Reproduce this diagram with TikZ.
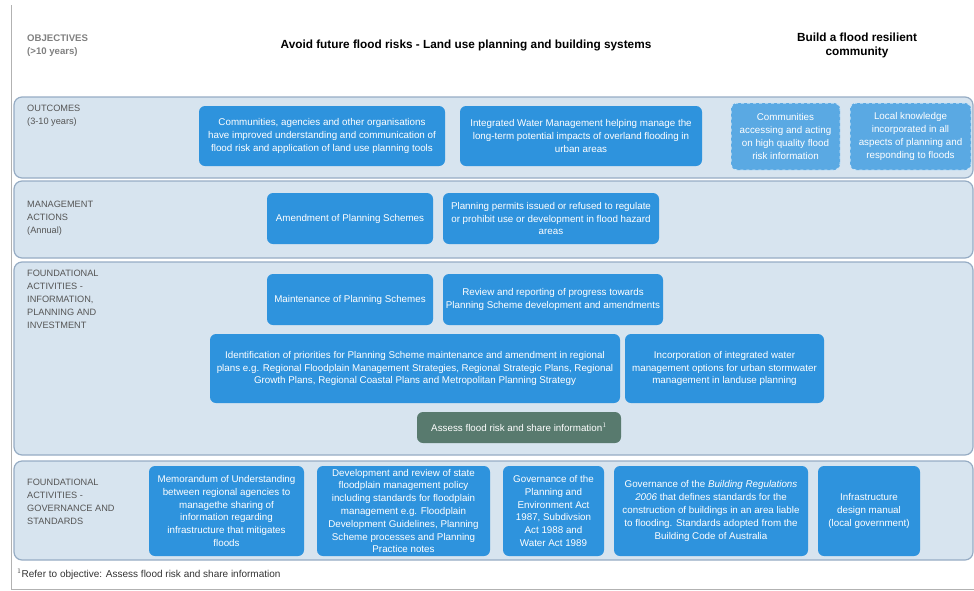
\documentclass[tikz,border=0pt]{standalone}
\usepackage{fontspec}
\setmainfont{Liberation Sans}
\usepackage{tikz}
\usetikzlibrary{calc}
\usepackage{xcolor}
\definecolor{bandfill}{RGB}{215,228,239}
\definecolor{bandedge}{RGB}{150,172,196}
\definecolor{boxblue}{RGB}{46,147,221}
\definecolor{softblue}{RGB}{90,169,227}
\definecolor{assessgreen}{RGB}{88,122,110}
\definecolor{labelgray}{RGB}{85,85,85}

\begin{document}
\begin{tikzpicture}[x=1pt, y=-1pt,
		band/.style={draw=bandedge, line width=1.2pt, fill=bandfill, rounded corners=8pt},
		box/.style={rectangle, rounded corners=6pt, fill=boxblue, text=white, align=center,
			inner sep=1pt, font=\fontsize{9.8}{12.8}\selectfont},
		softbox/.style={box, fill=softblue, draw=white!70!softblue, dashed, line width=1pt},
		bandlabel/.style={anchor=north west, align=left, text=labelgray, inner sep=0pt,
			font=\fontsize{9.2}{13}\selectfont},
		heading/.style={align=center, font=\bfseries\fontsize{11.8}{14}\selectfont}]
	\useasboundingbox (0,0) rectangle (974,590);
	%
	% frame
	\draw[gray!60, line width=0.8pt] (11,5) -- (11,589) -- (974,589);
	%
	% headings
	\node[anchor=north west, align=left, text=gray, inner sep=0pt, font=\bfseries\fontsize{9.6}{13}\selectfont]
		(objectives) at (27,35) {OBJECTIVES\\(>10 years)};
	\node[heading] (avoid) at (466,45) {Avoid future flood risks - Land use planning and building systems};
	\node[heading] (resilient) at (857,45) {Build a flood resilient\\community};
	%
	% bands
	\draw[band] (14,97) rectangle (973,178);
	\draw[band] (14,181) rectangle (973,258);
	\draw[band] (14,262) rectangle (973,455);
	\draw[band] (14,461) rectangle (973,560);
	%
	\node[bandlabel] (outcomes) at (27,105) {OUTCOMES\\(3-10 years)};
	\node[bandlabel] (actions) at (27,201) {MANAGEMENT\\ACTIONS\\(Annual)};
	\node[bandlabel] (information) at (27,270) {FOUNDATIONAL\\ACTIVITIES -\\INFORMATION,\\PLANNING AND\\INVESTMENT};
	\node[bandlabel] (governance) at (27,479) {FOUNDATIONAL\\ACTIVITIES -\\GOVERNANCE AND\\STANDARDS};
	%
	% outcomes
	\node[box, minimum width=246pt, minimum height=60pt] (understanding) at (322,136)
		{Communities, agencies and other organisations\\have improved understanding and communication of\\flood risk and application of land use planning tools};
	\node[box, minimum width=242pt, minimum height=60pt] (water) at (581,136)
		{Integrated Water Management helping manage the\\long-term potential impacts of overland flooding in\\urban areas};
	\node[softbox, minimum width=109pt, minimum height=67pt] (accessing) at (785.5,136.5)
		{Communities\\accessing and acting\\on high quality flood\\risk information};
	\node[softbox, minimum width=121pt, minimum height=67pt] (knowledge) at (910.5,136.5)
		{Local knowledge\\incorporated in all\\aspects of planning and\\responding to floods};
	%
	% management actions
	\node[box, minimum width=166pt, minimum height=51pt] (amendment) at (350,218.5)
		{Amendment of Planning Schemes};
	\node[box, minimum width=216pt, minimum height=51pt] (permits) at (551,218.5)
		{Planning permits issued or refused to regulate\\or prohibit use or development in flood hazard\\areas};
	%
	% information, planning and investment
	\node[box, minimum width=166pt, minimum height=51pt] (maintenance) at (350,299.5)
		{Maintenance of Planning Schemes};
	\node[box, minimum width=220pt, minimum height=51pt] (review) at (553,299.5)
		{Review and reporting of progress towards\\Planning Scheme development and amendments};
	\node[box, minimum width=410pt, minimum height=69pt] (priorities) at (415,368.5)
		{Identification of priorities for Planning Scheme maintenance and amendment in regional\\plans e.g. Regional Floodplain Management Strategies, Regional Strategic Plans, Regional\\Growth Plans, Regional Coastal Plans and Metropolitan Planning Strategy};
	\node[box, minimum width=199pt, minimum height=69pt] (stormwater) at (724.5,368.5)
		{Incorporation of integrated water\\management options for urban stormwater\\management in landuse planning};
	\node[box, fill=assessgreen, minimum width=204pt, minimum height=31pt] (assess) at (519,427.5)
		{Assess flood risk and share information$^1$};
	%
	% governance and standards
	\node[box, minimum width=155pt, minimum height=90pt] (memorandum) at (226.5,511)
		{Memorandum of Understanding\\between regional agencies to\\managethe sharing of\\information regarding\\infrastructure that mitigates\\floods};
	\node[box, minimum width=173pt, minimum height=90pt] (policy) at (403.5,511)
		{Development and review of state\\floodplain management policy\\including standards for floodplain\\management e.g. Floodplain\\Development Guidelines, Planning\\Scheme processes and Planning\\Practice notes};
	\node[box, minimum width=101pt, minimum height=90pt] (acts) at (553.5,511)
		{Governance of the\\Planning and\\Environment Act\\1987, Subdivsion\\Act 1988 and\\Water Act 1989};
	\node[box, minimum width=194pt, minimum height=90pt] (building) at (711,511)
		{Governance of the \emph{Building Regulations}\\\emph{2006} that defines standards for the\\construction of buildings in an area liable\\to flooding. Standards adopted from the\\Building Code of Australia};
	\node[box, minimum width=102pt, minimum height=90pt] (manual) at (869,511)
		{Infrastructure\\design manual\\(local government)};
	%
	% footnote
	\node[anchor=west, text=black!80, inner sep=0pt, font=\fontsize{10}{12}\selectfont] (footnote) at (17,574)
		{$^1$Refer to objective: Assess flood risk and share information};
\end{tikzpicture}
\end{document}
